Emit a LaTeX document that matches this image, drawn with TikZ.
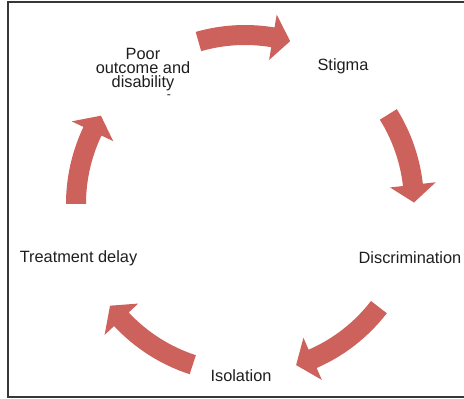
\documentclass[tikz,border=0pt]{standalone}
\usepackage{fontspec}
\setmainfont{Liberation Sans}
\usepackage{tikz}
\usepackage{color}
\definecolor{cyclered}{RGB}{205,98,93}
\definecolor{labelgray}{RGB}{30,30,30}
\definecolor{framegray}{RGB}{55,55,55}

% one bent arrow of the cycle, running clockwise from angle #1 to angle #2
\newcommand{\cyclearrow}[2]{%
	\pgfmathsetmacro\headang{#2+6}
	\fill[cyclered] ([shift={(ctr)}]#1:179) arc[start angle=#1, end angle=\headang, radius=179]
		-- ([shift={(ctr)}]\headang:192) -- ([shift={(ctr)}]#2:169)
		-- ([shift={(ctr)}]\headang:146) -- ([shift={(ctr)}]\headang:159)
		arc[start angle=\headang, end angle=#1, radius=159] -- cycle;}

\begin{document}
\begin{tikzpicture}[x=0.02cm, y=0.02cm,
	lbl/.style={text=labelgray, inner sep=0pt, font=\fontsize{9.3}{8.0}\selectfont}]
	\useasboundingbox (0,0) rectangle (464,399);
	\draw[framegray, line width=0.8pt] (464,397) -- (8,397) -- (8,2) -- (464,2);
	\coordinate (ctr) at (245,195);
	\cyclearrow{106}{74.5}
	\cyclearrow{32}{0.5}
	\cyclearrow{-37.6}{-72.4}
	\cyclearrow{-108}{-143}
	\cyclearrow{180}{148.5}
	\node[lbl, anchor=north, align=center] (poor) at (143,351) {Poor\\outcome and\\disability};
	\node[lbl, anchor=base, font=\fontsize{7}{8}\selectfont] (dash) at (169,300) {-};
	\node[lbl, anchor=base] (stigma) at (343,328) {Stigma};
	\node[lbl, anchor=base] (discr) at (410,135) {Discrimination};
	\node[lbl, anchor=base] (isol) at (241,17) {Isolation};
	\node[lbl, anchor=base] (delay) at (78.5,136) {Treatment delay};
\end{tikzpicture}
\end{document}
